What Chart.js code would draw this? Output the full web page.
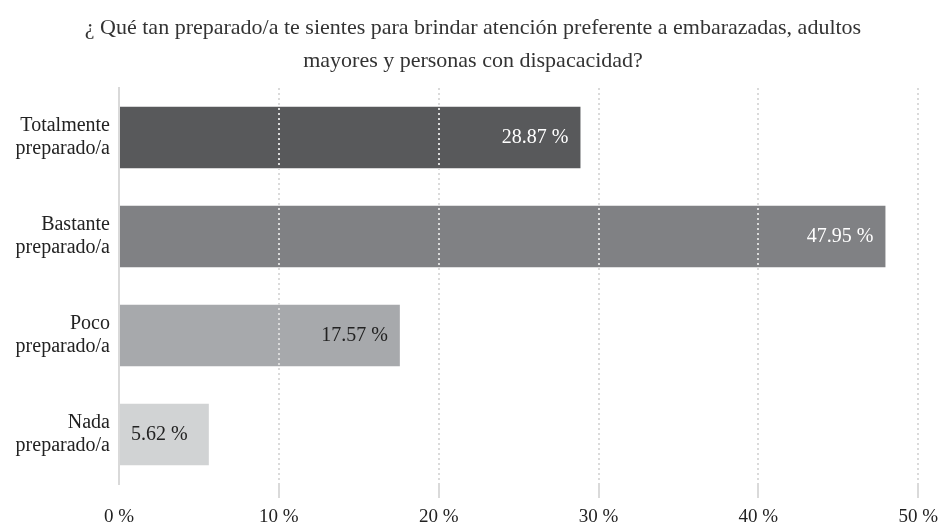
<!DOCTYPE html>
<html>
<head>
<meta charset="utf-8">
<script src="https://cdn.jsdelivr.net/npm/chart.js@4"></script>
<style>
  html, body { margin: 0; padding: 0; background: #fff; }
  #wrap { width: 946px; height: 525px; }
</style>
</head>
<body>
<div id="wrap"><canvas id="chart"></canvas></div>
<script>
const titleLines = [
  "¿ Qué tan preparado/a te sientes para brindar atención preferente a embarazadas, adultos",
  "mayores y personas con dispacacidad?"
];
const categories = [
  ["Totalmente", "preparado/a"],
  ["Bastante", "preparado/a"],
  ["Poco", "preparado/a"],
  ["Nada", "preparado/a"]
];
const percentages = [28.87, 47.95, 17.57, 5.62];
const barColors = ["#58595b", "#808184", "#a7a9ac", "#d1d3d4"];
const labelColors = ["#ffffff", "#ffffff", "#222222", "#222222"];
const xTicks = [0, 10, 20, 30, 40, 50];

const serif = "'Liberation Serif', 'DejaVu Serif', serif";

// values drawn at the right end of each bar
const barLabels = {
  id: "barLabels",
  afterLayout(chart) {
    // centre the title on the whole canvas, not on the padded box
    chart.titleBlock.left = 0;
    chart.titleBlock.right = chart.width;
    chart.titleBlock.width = chart.width;
  },
  afterDatasetsDraw(chart) {
    const ctx = chart.ctx;
    const meta = chart.getDatasetMeta(0);
    ctx.save();
    ctx.font = "20px " + serif;
    ctx.textBaseline = "middle";
    meta.data.forEach((bar, i) => {
      const text = percentages[i].toFixed(2) + " %";
      const w = ctx.measureText(text).width;
      const barW = bar.x - bar.base;
      ctx.fillStyle = labelColors[i];
      if (barW < w + 50) {
        ctx.textAlign = "center";
        ctx.fillText(text, (bar.x + bar.base) / 2 - 5, bar.y);
      } else {
        ctx.textAlign = "right";
        ctx.fillText(text, bar.x - 12, bar.y);
      }
    });
    ctx.restore();
  }
};

new Chart(document.getElementById("chart"), {
  type: "bar",
  data: {
    labels: categories,
    datasets: [{
      data: percentages,
      backgroundColor: barColors,
      borderWidth: 0,
      barPercentage: 0.62,
      categoryPercentage: 1
    }]
  },
  options: {
    indexAxis: "y",
    responsive: true,
    maintainAspectRatio: false,
    animation: false,
    layout: { padding: { left: 0, right: 27, top: 0, bottom: 0 } },
    plugins: {
      legend: { display: false },
      tooltip: { enabled: false },
      title: {
        display: true,
        text: titleLines,
        color: "#333",
        font: { family: serif, size: 22, weight: "normal", lineHeight: 1.5 },
        padding: { top: 12, bottom: 10 }
      }
    },
    scales: {
      x: {
        min: 0,
        max: 50,
        afterBuildTicks(scale) {
          scale.ticks = xTicks.map(v => ({ value: v }));
        },
        afterFit(scale) { scale.height = 41; },
        grid: {
          z: 1,
          color: ctx => ctx.index === 0 ? "rgba(0,0,0,0)" : "#dadada",
          lineWidth: 2,
          tickLength: 14,
          drawTicks: true
        },
        border: { display: false, dash: [2, 3] },
        ticks: {
          color: "#222",
          padding: 8,
          font: { family: serif, size: 19 },
          callback: v => v + " %"
        }
      },
      y: {
        afterFit(scale) { scale.width = 119; },
        grid: { display: false, tickLength: 0 },
        border: { display: true, color: "#d9d9d9", width: 2 },
        ticks: {
          color: "#222",
          padding: 9,
          font: { family: serif, size: 20, lineHeight: 1.15 }
        }
      }
    }
  },
  plugins: [barLabels]
});
</script>
</body>
</html>
